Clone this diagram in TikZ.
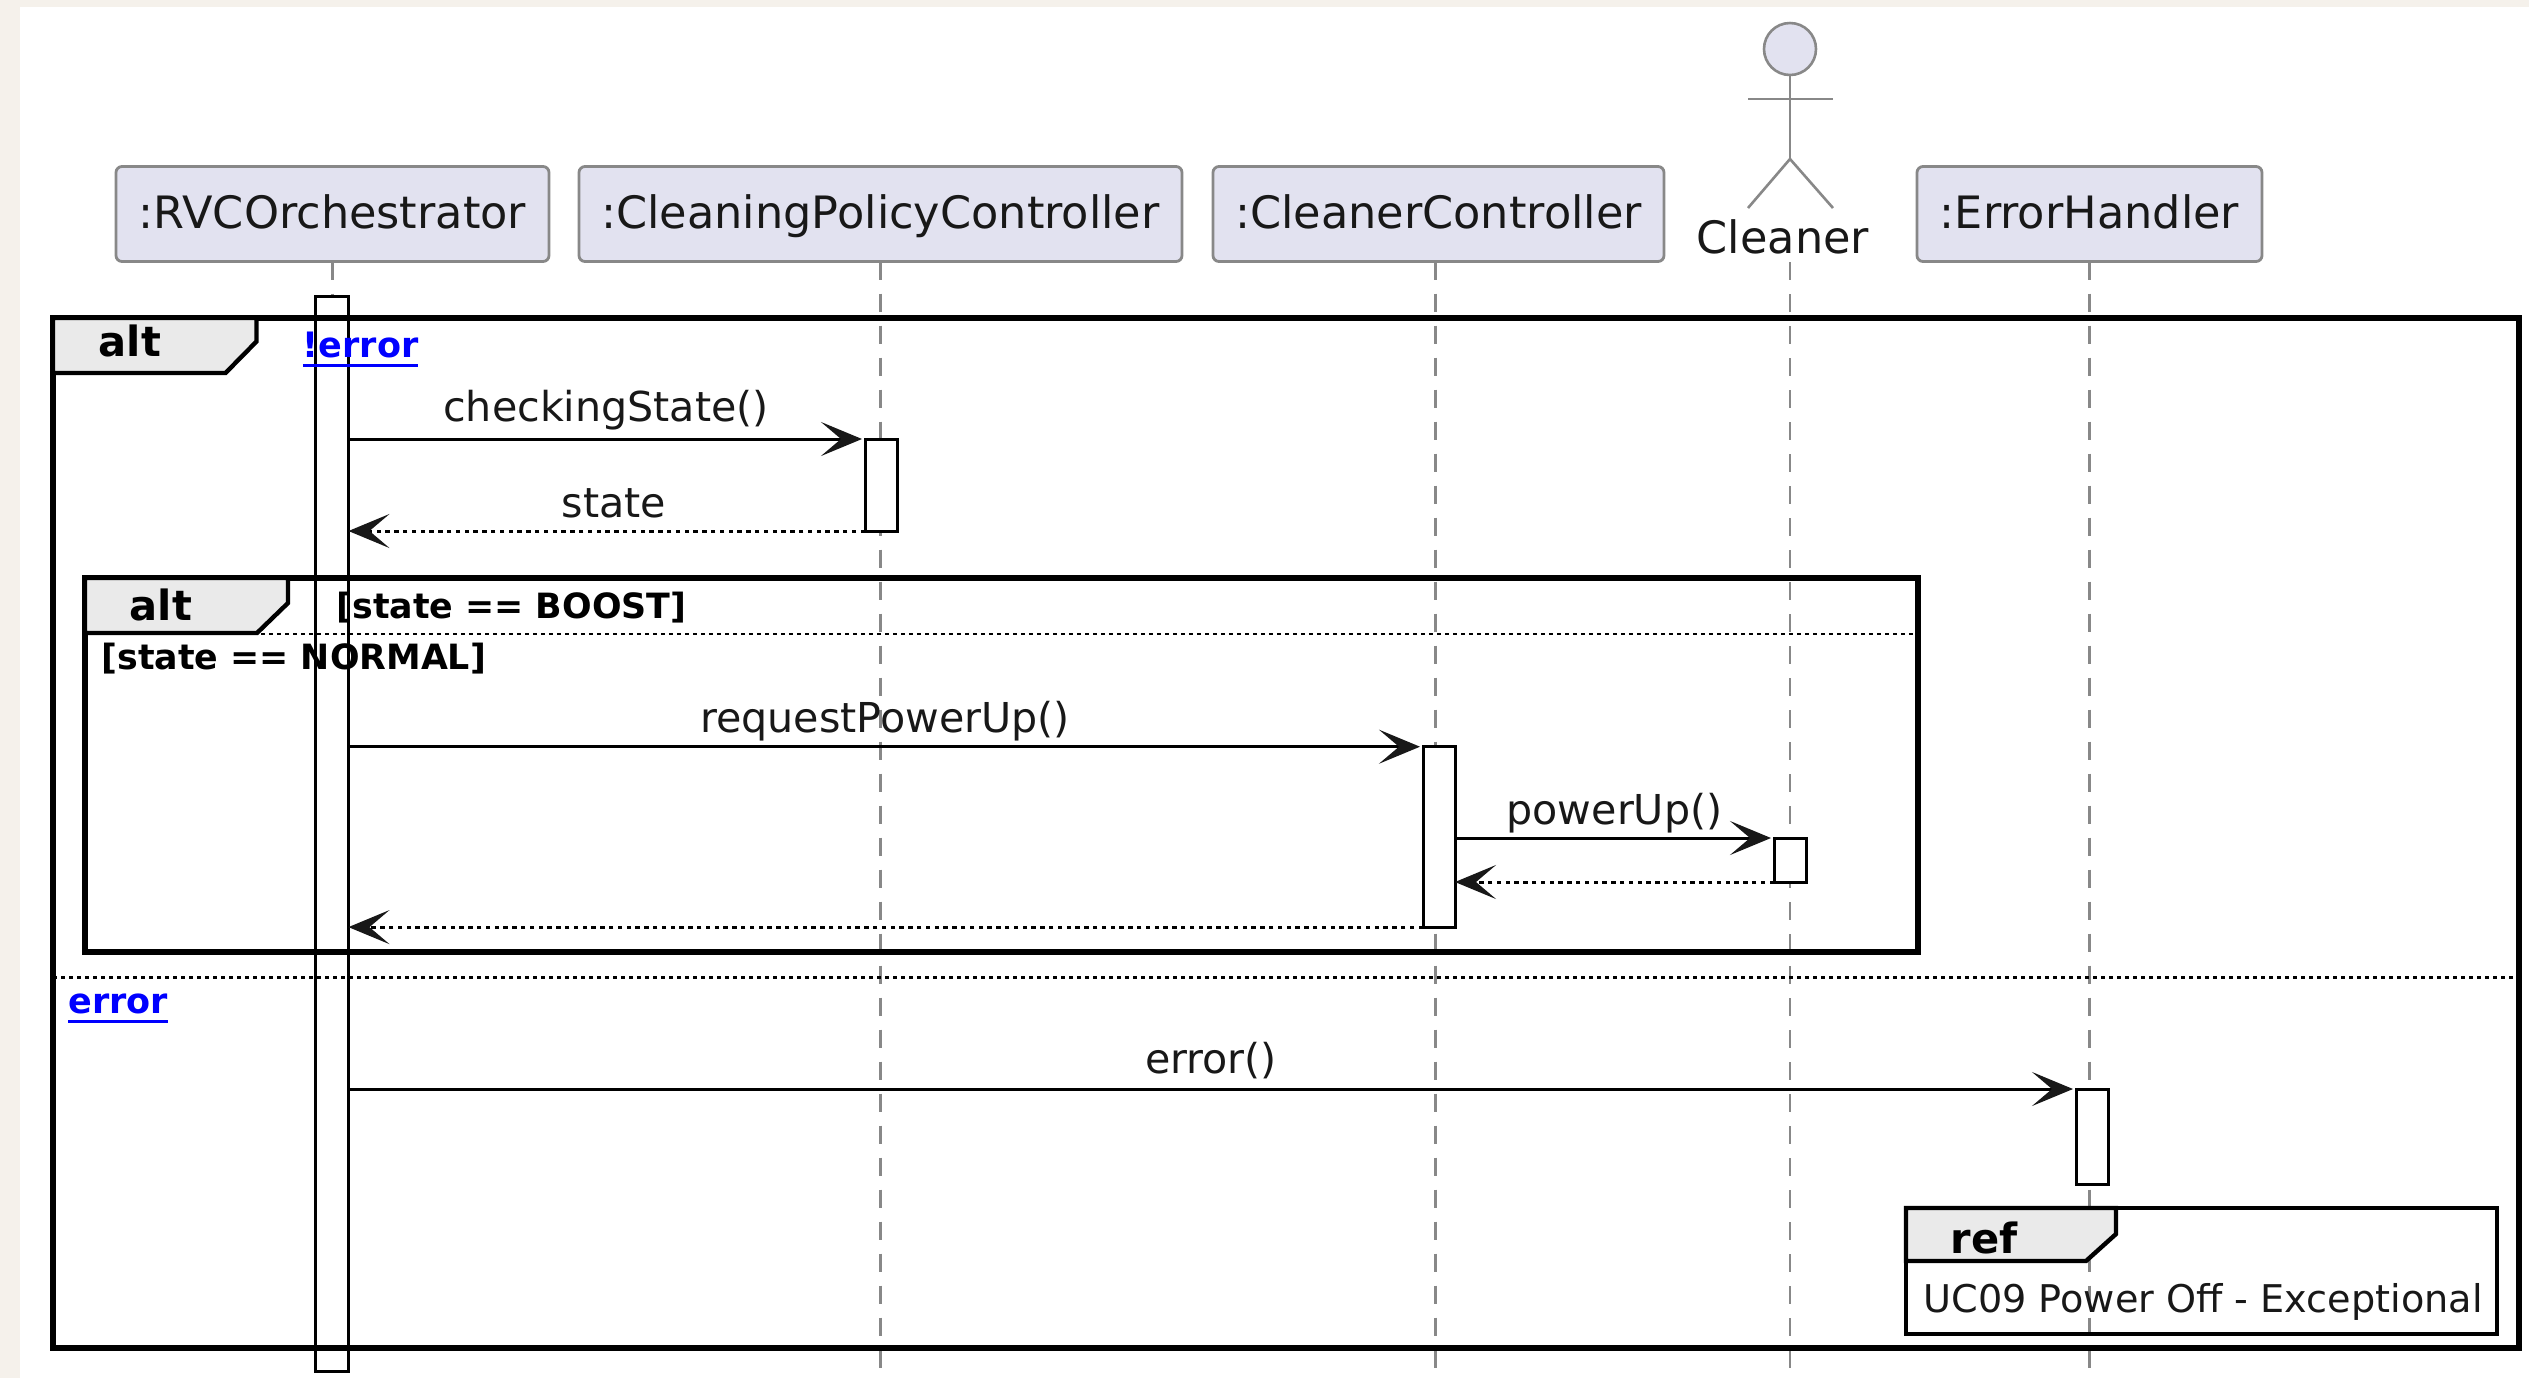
\documentclass[tikz,border=0pt]{standalone}
\usepackage{fontspec}
\setmainfont{DejaVu Sans}
\usetikzlibrary{arrows.meta}
\definecolor{ink}{HTML}{181818}
\definecolor{partfill}{HTML}{E2E2F0}
\definecolor{partline}{HTML}{888888}
\definecolor{tabfill}{HTML}{EAEAEA}
\definecolor{page}{HTML}{F5F1EB}
\newcommand\linkul[1]{\leavevmode\setbox0=\hbox{#1}\rlap{\copy0}\rule[-5pt]{\wd0}{1.5pt}}
\tikzset{
  px/.style={x=0.5pt,y=-0.5pt},
  part/.style={draw=partline,fill=partfill,line width=1.4pt,rounded corners=3pt,inner sep=0pt,outer sep=0pt,text=ink,text height=16pt,text depth=2pt,font=\fontsize{22.3}{25}\selectfont},
  life/.style={draw=partline,line width=1.2pt,dash pattern=on 9pt off 7pt},
  activ/.style={draw=black,fill=white,line width=1.5pt,inner sep=0pt,outer sep=0pt},
  framebox/.style={draw=black,line width=2.8pt,inner sep=0pt,outer sep=0pt},
  refbox/.style={draw=black,line width=2.2pt,inner sep=0pt,outer sep=0pt},
  tabshape/.style={draw=black,fill=tabfill,line width=2.2pt,line join=miter},
  sep/.style={draw=black,line width=1.2pt,dash pattern=on 2pt off 2pt},
  msg/.style={draw=black,line width=1.5pt,shorten >=1.5pt,-{Stealth[length=20.5pt,width=17pt,inset=10pt,color=ink]}},
  ret/.style={draw=black,line width=1.5pt,dash pattern=on 2.2pt off 2.2pt,-{Stealth[length=20.5pt,width=17pt,inset=10pt,color=ink]}},
  msgtext/.style={text=ink,inner sep=0pt,anchor=base,font=\fontsize{20.6}{24}\selectfont},
  reftext/.style={text=ink,inner sep=0pt,anchor=base west,font=\fontsize{19.1}{22}\selectfont},
  fbold/.style={inner sep=0pt,anchor=base,text=black,font=\fontsize{20.8}{24}\selectfont\bfseries},
  guard/.style={inner sep=0pt,anchor=base west,text=black,font=\fontsize{17.4}{20}\selectfont\bfseries},
  link/.style={inner sep=0pt,anchor=base west,text={rgb,255:red,0;green,0;blue,255},font=\fontsize{17.5}{20}\selectfont\bfseries},
  actorline/.style={draw=partline,line width=1.3pt}
}
\begin{document}
\begin{tikzpicture}[px]
\useasboundingbox (0,0) rectangle (2529,1378);
\fill[page] (0,0) rectangle (2529,1378);
\fill[white] (20,7) rectangle (2529,1378);

% participants
\node[part,minimum width=216.5pt,minimum height=47.5pt] (p1) at (332.5,214) {:RVCOrchestrator};
\node[part,minimum width=301.5pt,minimum height=47.5pt] (p2) at (880.5,214) {:CleaningPolicyController};
\node[part,minimum width=225.5pt,minimum height=47.5pt] (p3) at (1438.5,214) {:CleanerController};
\node[part,minimum width=172.5pt,minimum height=47.5pt] (p5) at (2089.5,214) {:ErrorHandler};

% actor
\node[draw=partline,fill=partfill,line width=1.3pt,circle,minimum size=26pt,inner sep=0pt,outer sep=0pt] (head) at (1790,49) {};
\coordinate (neck) at (1790,159);
\coordinate (armL) at (1748,99);
\coordinate (armR) at (1833,99);
\coordinate (legL) at (1748,208);
\coordinate (legR) at (1833,208);
\draw[actorline] (head) -- (neck);
\draw[actorline] (armL) -- (armR);
\draw[actorline] (legL) -- (neck) -- (legR);
\node[part,draw=none,fill=none] (actorname) at (1783,239) {Cleaner};

% lifelines
\coordinate (e1) at (332.5,1378);
\coordinate (e2) at (880.5,1378);
\coordinate (e3) at (1435.5,1378);
\coordinate (e4) at (1790,1378);
\coordinate (e5) at (2089.5,1378);
\coordinate (s4) at (1790,262);
\draw[life] (p1.south) -- (e1);
\draw[life] (p2.south) -- (e2);
\draw[life] (e3 |- p3.south) -- (e3);
\draw[life] (s4) -- (e4);
\draw[life] (p5.south) -- (e5);

% activations
\node[activ,minimum width=16.25pt,minimum height=537.5pt] (a1) at (332.2,833.5) {};
\node[activ,minimum width=16pt,minimum height=46pt] (a2) at (881,485) {};
\node[activ,minimum width=16pt,minimum height=90.2pt] (a3) at (1439,836.9) {};
\node[activ,minimum width=16pt,minimum height=22pt] (a4) at (1790,860) {};
\node[activ,minimum width=16pt,minimum height=47.5pt] (a5) at (2092,1136.5) {};

% outer alt
\node[framebox,minimum width=1233pt,minimum height=515pt] (outer) at (1286,833) {};
\draw[tabshape] (53,318) -- (256.5,318) -- (256.5,341.5) -- (225.5,373) -- (53,373) -- cycle;
\node[fbold] (outeralt) at (130,356) {alt};
\coordinate (sepA) at (53,977.5);
\draw[sep] (sepA) -- (outer.east |- sepA);

% inner alt
\node[framebox,minimum width=916.5pt,minimum height=187pt] (inner) at (1001.5,765) {};
\draw[tabshape] (85,578) -- (288,578) -- (288,603) -- (257,633) -- (85,633) -- cycle;
\node[fbold] (inneralt) at (161,620) {alt};
\coordinate (sepB) at (85,634);
\draw[sep] (sepB) -- (inner.east |- sepB);
\node[guard] (g1) at (336,618) {[state == BOOST]};
\node[guard] (g2) at (101,669) {[state == NORMAL]};

% link labels
\node[link] (l1) at (302.5,357) {\linkul{!error}};
\node[link] (l2) at (68,1013) {\linkul{error}};

% messages
\draw[msg] (a1.east |- a2.north west) -- (a2.north west);
\node[msgtext] (t1) at (606,421) {checkingState()};
\draw[ret] (a2.south west) -- (a1.east |- a2.south west);
\node[msgtext] (t2) at (614,517) {state};
\draw[msg] (a1.east |- a3.north west) -- (a3.north west);
\node[msgtext] (t3) at (885,732) {requestPowerUp()};
\draw[msg] (a3.east |- a4.north west) -- (a4.north west);
\node[msgtext] (t4) at (1614.5,824) {powerUp()};
\draw[ret] (a4.south west) -- (a3.east |- a4.south west);
\draw[ret] (a3.south west) -- (a1.east |- a3.south west);
\draw[msg] (a1.east |- a5.north west) -- (a5.north west);
\node[msgtext] (t5) at (1211,1073) {error()};

% ref
\node[refbox,minimum width=295.5pt,minimum height=63pt] (ref) at (2201.5,1271) {};
\draw[tabshape] (1906,1208) -- (2116,1208) -- (2116,1234) -- (2086,1261) -- (1906,1261) -- cycle;
\node[fbold] (reft) at (1984,1253.5) {ref};
\node[reftext] (refname) at (1923,1312) {UC09 Power Off - Exceptional};
\end{tikzpicture}
\end{document}
